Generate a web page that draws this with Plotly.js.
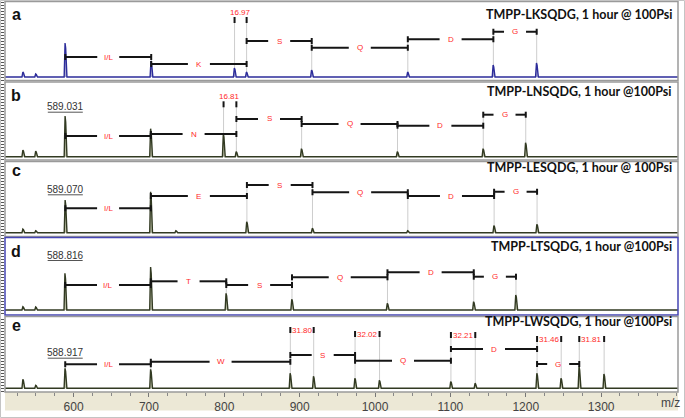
<!DOCTYPE html>
<html><head><meta charset="utf-8">
<script src="https://cdn.plot.ly/plotly-3.0.1.min.js"></script>
<style>html,body{margin:0;padding:0;background:#fff}#chart{width:685px;height:418px}</style>
</head><body><div id="chart"></div>
<script>
// ---------------- DATA ----------------
// Panel a: TMPP-LKSQDG
const titleA = 'TMPP-LKSQDG, 1 hour @ 100Psi';
const mzA  = [533, 550, 589.0, 703, 813.6, 829.6, 916, 1043.5, 1157, 1214.5];
const intA = [5, 3, 34, 16, 9, 5, 7, 5, 12, 14];
const brStartA = [589.0, 703, 829.6, 916, 1043.5, 1157];
const brEndA   = [703, 829.6, 916, 1043.5, 1157, 1214.5];
const brLevelA = [20, 13, 36, 29.3, 37.7, 45.3];
const resA = ['I/L', 'K', 'S', 'Q', 'D', 'G'];
const diffStartA = [813.6];
const diffEndA   = [829.6];
const diffLevelA = [57];
const diffLabelA = ['16.97'];

// Panel b: TMPP-LNSQDG
const titleB = 'TMPP-LNSQDG, 1 hour @100Psi';
const mzB  = [533, 550, 589.031, 702.5, 799, 816, 902.6, 1029.8, 1143.6, 1200];
const intB = [6.7, 5.5, 40.7, 28, 23, 5, 8, 5, 8, 14];
const brStartB = [589.031, 702.5, 816, 902.6, 1029.8, 1143.6];
const brEndB   = [702.5, 816, 902.6, 1029.8, 1143.6, 1200];
const brLevelB = [20.7, 22.7, 37.7, 32.7, 31, 42];
const resB = ['I/L', 'N', 'S', 'Q', 'D', 'G'];
const diffStartB = [799];
const diffEndB   = [816];
const diffLevelB = [52.4];
const diffLabelB = ['16.81'];
const precMzB = 589.031, precLabelB = '589.031', precLevelB = 50;

// Panel c: TMPP-LESQDG
const titleC = 'TMPP-LESQDG, 1 hour @ 100Psi';
const mzC  = [533, 550, 589.070, 702.5, 736, 830, 917, 1043.5, 1158, 1215];
const intC = [3.7, 2, 32.7, 41, 2, 11, 4.4, 2, 7, 8.4];
const brStartC = [589.070, 702.5, 830, 917, 1043.5, 1158];
const brEndC   = [702.5, 830, 917, 1043.5, 1158, 1215];
const brLevelC = [24.4, 36.7, 47.7, 40.4, 36.7, 41];
const resC = ['I/L', 'E', 'S', 'Q', 'D', 'G'];
const precMzC = 589.070, precLabelC = '589.070', precLevelC = 43.4;

// Panel d: TMPP-LTSQDG
const titleD = 'TMPP-LTSQDG, 1 hour @100Psi';
const mzD  = [533, 550, 588.816, 702.5, 802.6, 889.8, 1016.5, 1131, 1187];
const intD = [3.3, 3, 36.7, 43, 16.7, 10.7, 6.7, 8.3, 15];
const brStartD = [588.816, 702.5, 802.6, 889.8, 1016.5, 1131];
const brEndD   = [702.5, 802.6, 889.8, 1016.5, 1131, 1187];
const brLevelD = [25, 28.7, 25, 32.7, 37.7, 33.3];
const resD = ['I/L', 'T', 'S', 'Q', 'D', 'G'];
const precMzD = 588.816, precLabelD = '588.816', precLevelD = 55;

// Panel e: TMPP-LWSQDG
const titleE = 'TMPP-LWSQDG, 1 hour @100Psi';
const mzE  = [533, 550, 588.917, 702.5, 887.6, 918.6, 973.5, 1006, 1100.7, 1133, 1215, 1247, 1271, 1304];
const intE = [9, 3, 20, 19, 15, 12, 10, 8, 6.7, 5, 15, 10, 21.7, 14.3];
const brStartE = [588.917, 702.5, 887.6, 973.5, 1100.7, 1215];
const brEndE   = [702.5, 887.6, 973.5, 1100.7, 1215, 1271];
const brLevelE = [24, 26.6, 33.3, 27.6, 39.3, 24.3];
const resE = ['I/L', 'W', 'S', 'Q', 'D', 'G'];
const diffStartE = [887.6, 973.5, 1100.7, 1215, 1271];
const diffEndE   = [918.6, 1006, 1133, 1247, 1304];
const diffLevelE = [58.3, 54.3, 53.3, 49.3, 49.3];
const diffLabelE = ['31.80', '32.02', '32.21', '31.46', '31.81'];
const precMzE = 588.917, precLabelE = '588.917', precLevelE = 35.6;

const panelLetters = ['a', 'b', 'c', 'd', 'e'];
const xTickVals = [600, 700, 800, 900, 1000, 1100, 1200, 1300];
const xLabel = 'm/z';

// ---------------- LAYOUT GEOMETRY ----------------
const W = 685, H = 418, ML = 5, MR = 7, MT = 0, MB = 26;
const PW = W - ML - MR, PH = H - MT - MB;
const X0 = 509, X1 = 1402;
const upp = (X1 - X0) / PW;              // data units per pixel
const fx = p => (p - ML) / PW;
const fy = p => (PH - (p - MT)) / PH;

const panels = [
  {mz: mzA, inten: intA, bs: brStartA, be: brEndA, bl: brLevelA, lab: resA,
   ds: diffStartA, de: diffEndA, dl: diffLevelA, dlab: diffLabelA, dInline: false,
   title: titleA, top: 1.5, bottom: 80.5, base: 77, titleY: 15, letterY: 15,
   line: '#2c2c9a', fill: 'rgba(110,110,200,0.45)', border: '#9a9a9a'},
  {mz: mzB, inten: intB, bs: brStartB, be: brEndB, bl: brLevelB, lab: resB,
   ds: diffStartB, de: diffEndB, dl: diffLevelB, dlab: diffLabelB, dInline: false,
   prec: [precMzB, precLabelB, precLevelB],
   title: titleB, top: 82, bottom: 160, base: 156.7, titleY: 91.7, letterY: 95.5,
   line: '#323a22', fill: 'rgba(160,165,115,0.5)', border: '#9a9a9a'},
  {mz: mzC, inten: intC, bs: brStartC, be: brEndC, bl: brLevelC, lab: resC,
   ds: [], de: [], dl: [], dlab: [], dInline: false,
   prec: [precMzC, precLabelC, precLevelC],
   title: titleC, top: 161.5, bottom: 236.5, base: 232.7, titleY: 167.3, letterY: 170,
   line: '#323a22', fill: 'rgba(160,165,115,0.5)', border: '#9a9a9a'},
  {mz: mzD, inten: intD, bs: brStartD, be: brEndD, bl: brLevelD, lab: resD,
   ds: [], de: [], dl: [], dlab: [], dInline: false,
   prec: [precMzD, precLabelD, precLevelD],
   title: titleD, top: 237.5, bottom: 315, base: 310, titleY: 246.7, letterY: 251,
   line: '#323a22', fill: 'rgba(160,165,115,0.5)', border: '#4646b4'},
  {mz: mzE, inten: intE, bs: brStartE, be: brEndE, bl: brLevelE, lab: resE,
   ds: diffStartE, de: diffEndE, dl: diffLevelE, dlab: diffLabelE, dInline: true,
   prec: [precMzE, precLabelE, precLevelE],
   title: titleE, top: 316.5, bottom: 392, base: 388.3, titleY: 321, letterY: 325,
   line: '#323a22', fill: 'rgba(160,165,115,0.5)', border: '#9a9a9a'}
];

const traces = [];
const shapes = [];
const annotations = [];
const layout = {
  width: W, height: H,
  margin: {l: ML, r: MR, t: MT, b: MB, pad: 0},
  paper_bgcolor: '#ffffff', plot_bgcolor: '#ffffff',
  showlegend: false,
  font: {family: 'Liberation Sans, Arial, sans-serif', color: '#333'},
  xaxis: {
    range: [X0, X1], anchor: 'y5', domain: [0, 1],
    tickvals: xTickVals, ticks: 'outside', ticklen: 4, tickwidth: 1, tickcolor: '#777',
    tickfont: {size: 12, color: '#444', family: 'Liberation Sans, Arial, sans-serif'},
    minor: {dtick: 25, tick0: 0, ticks: 'outside', ticklen: 3, tickcolor: '#888'},
    showgrid: false, zeroline: false, showline: false
  }
};

const TICK = 3;              // half-height of bracket end ticks (px == units)
const GAP = 11 * upp;        // half gap for residue label
const RED = '#ff2a2a';

panels.forEach((p, i) => {
  const n = i + 1;
  const yname = n === 1 ? 'y' : 'y' + n;
  const ykey = n === 1 ? 'yaxis' : 'yaxis' + n;
  layout[ykey] = {
    domain: [fy(p.bottom), fy(p.top)],
    range: [-(p.bottom - p.base), p.base - p.top],
    anchor: 'x', showgrid: false, zeroline: false, showticklabels: false,
    ticks: 'outside', ticklen: 3, dtick: 3, tickcolor: '#555', tickwidth: 1,
    showline: false, fixedrange: true
  };

  // gray guide lines from peaks up to bracket levels
  const endLevel = {};
  p.bs.forEach((s, k) => {
    endLevel[s] = Math.max(endLevel[s] || 0, p.bl[k]);
    endLevel[p.be[k]] = Math.max(endLevel[p.be[k]] || 0, p.bl[k]);
  });
  p.ds.forEach((s, k) => {
    endLevel[s] = Math.max(endLevel[s] || 0, p.dl[k]);
    endLevel[p.de[k]] = Math.max(endLevel[p.de[k]] || 0, p.dl[k]);
  });
  const gx = [], gy = [];
  Object.keys(endLevel).forEach(m => {
    gx.push(+m, +m, null); gy.push(0, endLevel[m] + 1, null);
  });
  traces.push({x: gx, y: gy, xaxis: 'x', yaxis: yname, mode: 'lines',
    line: {color: '#cdcdcd', width: 1}, hoverinfo: 'skip'});

  // spectrum built from peak list
  const sx = [X0], sy = [0];
  p.mz.forEach((m, k) => {
    sx.push(m - 1.5, m - 0.3, m + 0.5, m + 2.2); sy.push(0, p.inten[k], p.inten[k] * 0.85, 0);
  });
  sx.push(X1); sy.push(0);
  traces.push({x: sx, y: sy, xaxis: 'x', yaxis: yname, mode: 'lines',
    line: {color: p.line, width: 1.4}, fill: 'tozeroy', fillcolor: p.fill, hoverinfo: 'skip'});

  // brackets
  const bx = [], by = [];
  p.bs.forEach((s, k) => {
    const e = p.be[k], L = p.bl[k], c = (s + e) / 2;
    bx.push(s, c - GAP, null, c + GAP, e, null, s, s, null, e, e, null);
    by.push(L, L, null, L, L, null, L - TICK, L + TICK, null, L - TICK, L + TICK, null);
    annotations.push({x: c, y: L, xref: 'x', yref: yname, text: p.lab[k], showarrow: false,
      font: {size: 8, color: RED, family: 'Liberation Sans, Arial, sans-serif'},
      xanchor: 'center', yanchor: 'middle'});
  });
  p.ds.forEach((s, k) => {
    const e = p.de[k], L = p.dl[k];
    bx.push(s, s, null, e, e, null);
    by.push(L - TICK, L + TICK, null, L - TICK, L + TICK, null);
    annotations.push({x: (s + e) / 2, y: p.dInline ? L : L + 7.5, xref: 'x', yref: yname,
      text: p.dlab[k], showarrow: false,
      font: {size: 8, color: RED, family: 'Liberation Sans, Arial, sans-serif'},
      xanchor: 'center', yanchor: 'middle'});
  });
  traces.push({x: bx, y: by, xaxis: 'x', yaxis: yname, mode: 'lines',
    line: {color: '#151515', width: 2}, hoverinfo: 'skip'});

  // precursor label with underline
  if (p.prec) {
    const [pm, pl, plev] = p.prec;
    annotations.push({x: pm, y: plev, xref: 'x', yref: yname, text: pl, showarrow: false,
      font: {size: 10, color: '#333', family: 'Liberation Sans, Arial, sans-serif'},
      xanchor: 'center', yanchor: 'middle'});
    shapes.push({type: 'line', xref: 'x', yref: yname, x0: pm - 17.5 * upp, x1: pm + 17.5 * upp,
      y0: plev - 5.5, y1: plev - 5.5, line: {color: '#555', width: 1}});
  }

  // panel border
  shapes.push({type: 'rect', xref: 'paper', yref: 'paper', x0: 0, x1: 1,
    y0: fy(p.bottom), y1: fy(p.top), line: {color: p.border, width: 1.5}, layer: 'above'});

  // title and panel letter
  annotations.push({x: fx(674), y: fy(p.titleY), xref: 'paper', yref: 'paper', text: '<b>' + p.title + '</b>',
    showarrow: false, xanchor: 'right', yanchor: 'middle',
    font: {size: 12.5, color: '#111', family: 'Lato, Liberation Sans, sans-serif'}});
  annotations.push({x: fx(16), y: fy(p.letterY), xref: 'paper', yref: 'paper', text: '<b>' + panelLetters[i] + '</b>',
    showarrow: false, xanchor: 'center', yanchor: 'middle',
    font: {size: 16, color: '#111', family: 'Liberation Sans, Arial, sans-serif'}});
});

// x-axis band & outer frame
shapes.push({type: 'rect', xref: 'paper', yref: 'paper', x0: 0, x1: 1, y0: fy(410.5), y1: fy(392),
  fillcolor: '#ece8d6', line: {width: 0}, layer: 'below'});
shapes.push({type: 'rect', xref: 'paper', yref: 'paper', x0: fx(0.5), x1: fx(684.5), y0: fy(417.5), y1: fy(0.5),
  line: {color: '#c4c4c4', width: 1}, layer: 'above'});
annotations.push({x: fx(670), y: fy(403), xref: 'paper', yref: 'paper', text: xLabel, showarrow: false,
  xanchor: 'center', yanchor: 'middle', font: {size: 12, color: '#444', family: 'Liberation Sans, Arial, sans-serif'}});

layout.shapes = shapes;
layout.annotations = annotations;

Plotly.newPlot('chart', traces, layout, {displayModeBar: false, staticPlot: true});
</script>
</body></html>
